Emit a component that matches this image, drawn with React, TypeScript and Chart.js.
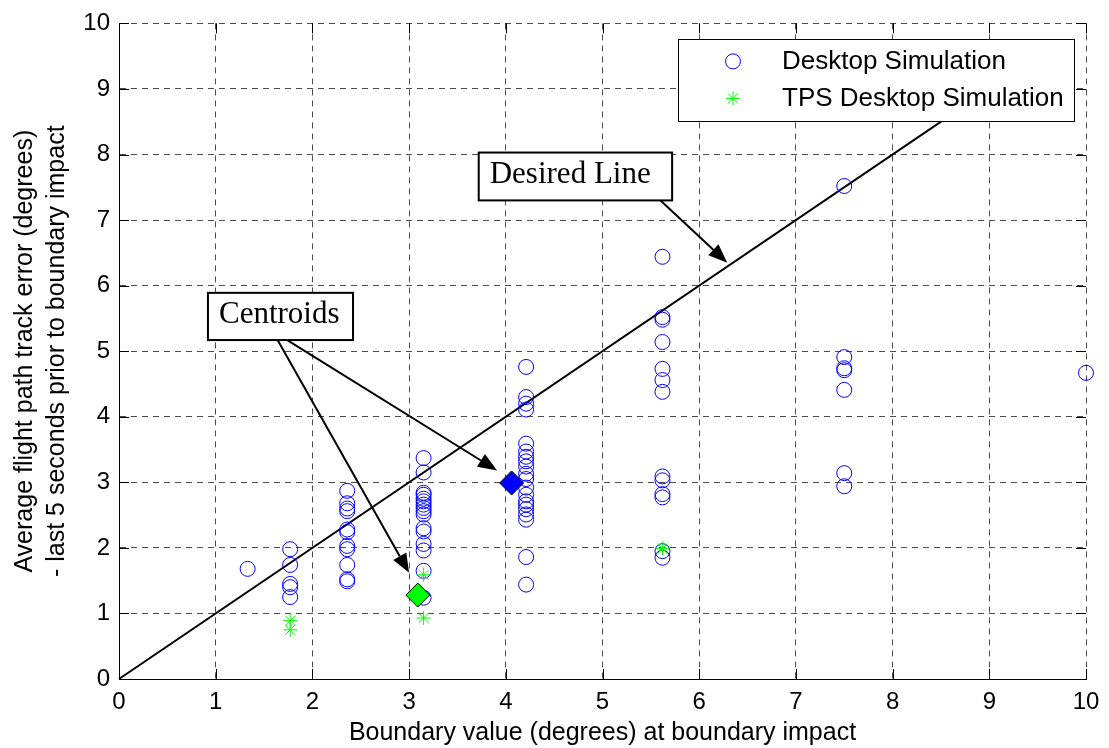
import React, { useEffect, useRef } from 'react';
import { Chart, registerables } from 'chart.js';

Chart.register(...registerables);

// ---- Data ----
const tickValues = [0, 1, 2, 3, 4, 5, 6, 7, 8, 9, 10];

const desktopClusterX = [1.33, 1.77, 2.36, 3.15, 4.21, 5.62, 7.5, 10];
const desktopClusterY = [
  [1.68],
  [1.98, 1.74, 1.45, 1.4, 1.25],
  [2.87, 2.68, 2.6, 2.56, 2.28, 2.24, 2.03, 1.98, 1.74, 1.52, 1.49],
  [3.37, 3.15, 2.84, 2.81, 2.75, 2.71, 2.66, 2.61, 2.56, 2.51, 2.3, 2.25, 2.06, 1.96, 1.65, 1.24],
  [4.76, 4.3, 4.2, 4.11, 3.59, 3.47, 3.39, 3.32, 3.24, 3.13, 3.05, 2.92, 2.81, 2.71, 2.66, 2.59, 2.51, 2.43, 1.86, 1.44],
  [6.44, 5.52, 5.48, 5.14, 4.73, 4.56, 4.38, 3.09, 3.03, 2.82, 2.77, 1.95, 1.85],
  [7.52, 4.91, 4.74, 4.71, 4.41, 3.14, 2.94],
  [4.67],
];

const tpsX = [1.77, 1.77, 3.15, 3.15, 5.62];
const tpsY = [0.89, 0.75, 1.59, 0.93, 1.99];

const desktopCentroidX = [4.06];
const desktopCentroidY = [2.99];
const tpsCentroidX = [3.09];
const tpsCentroidY = [1.28];

const desiredLineX = [0, 9.5];
const desiredLineY = [0, 9.5];

const seriesLabels = ['Desktop Simulation', 'TPS Desktop Simulation'];
const xTitle = 'Boundary value (degrees) at boundary impact';
const yTitle = ['Average flight path track error (degrees)', '- last 5 seconds prior to boundary impact'];

// annotations (in data units)
const noteTexts = ['Desired Line', 'Centroids'];
const noteX0 = [3.72, 0.92];
const noteX1 = [5.72, 2.42];
const noteY0 = [7.3, 5.17];
const noteY1 = [8.03, 5.89];
const arrowFromX = [5.6, 1.74, 1.64];
const arrowFromY = [7.3, 5.17, 5.17];
const arrowToX = [6.29, 3.91, 3.0];
const arrowToY = [6.35, 3.18, 1.62];

const SANS = "'Liberation Sans', Arial, sans-serif";
const SERIF = "'Liberation Serif', 'Times New Roman', serif";

function drawArrow(ctx: CanvasRenderingContext2D, x0: number, y0: number, x1: number, y1: number) {
  const ang = Math.atan2(y1 - y0, x1 - x0);
  const L = 19;
  const W = 7.5;
  const bx = x1 - L * Math.cos(ang);
  const by = y1 - L * Math.sin(ang);
  ctx.beginPath();
  ctx.moveTo(x0, y0);
  ctx.lineTo(bx, by);
  ctx.stroke();
  ctx.beginPath();
  ctx.moveTo(x1, y1);
  ctx.lineTo(bx - W * Math.sin(ang), by + W * Math.cos(ang));
  ctx.lineTo(bx + W * Math.sin(ang), by - W * Math.cos(ang));
  ctx.closePath();
  ctx.fill();
}

const overlayPlugin = {
  id: 'overlay',
  afterDatasetsDraw(chart: any) {
    const { ctx, chartArea: ca, scales } = chart;
    const xs = scales.x;
    const ys = scales.y;
    ctx.save();

    // inward tick marks on all four sides
    ctx.strokeStyle = '#000';
    ctx.lineWidth = 1;
    ctx.setLineDash([]);
    ctx.beginPath();
    for (const v of tickValues) {
      const px = Math.round(xs.getPixelForValue(v)) + 0.5;
      ctx.moveTo(px, ca.bottom);
      ctx.lineTo(px, ca.bottom - 10);
      ctx.moveTo(px, ca.top);
      ctx.lineTo(px, ca.top + 10);
      const py = Math.round(ys.getPixelForValue(v)) + 0.5;
      ctx.moveTo(ca.left, py);
      ctx.lineTo(ca.left + 10, py);
      ctx.moveTo(ca.right, py);
      ctx.lineTo(ca.right - 10, py);
    }
    ctx.stroke();

    // arrows
    ctx.strokeStyle = '#000';
    ctx.fillStyle = '#000';
    ctx.lineWidth = 2;
    for (let i = 0; i < arrowFromX.length; i++) {
      drawArrow(
        ctx,
        xs.getPixelForValue(arrowFromX[i]),
        ys.getPixelForValue(arrowFromY[i]),
        xs.getPixelForValue(arrowToX[i]),
        ys.getPixelForValue(arrowToY[i])
      );
    }

    // text boxes
    for (let i = 0; i < noteTexts.length; i++) {
      const l = xs.getPixelForValue(noteX0[i]);
      const r = xs.getPixelForValue(noteX1[i]);
      const t = ys.getPixelForValue(noteY1[i]);
      const b = ys.getPixelForValue(noteY0[i]);
      ctx.fillStyle = '#fff';
      ctx.fillRect(l, t, r - l, b - t);
      ctx.strokeStyle = '#000';
      ctx.lineWidth = 2;
      ctx.strokeRect(l, t, r - l, b - t);
      ctx.fillStyle = '#000';
      ctx.font = `31px ${SERIF}`;
      ctx.textAlign = 'left';
      ctx.textBaseline = 'alphabetic';
      ctx.fillText(noteTexts[i], l + 11, b - 17);
    }

    // legend
    const lw = 396;
    const lh = 82;
    const lx = ca.right - 12 - lw;
    const ly = ca.top + 16;
    ctx.fillStyle = '#fff';
    ctx.fillRect(lx, ly, lw, lh);
    ctx.strokeStyle = '#000';
    ctx.lineWidth = 1;
    ctx.strokeRect(Math.round(lx) + 0.5, Math.round(ly) + 0.5, lw, lh);
    const mx = lx + 55;
    const r1 = ly + 22;
    const r2 = ly + 59;
    ctx.strokeStyle = '#0000ff';
    ctx.beginPath();
    ctx.arc(mx, r1, 7.5, 0, Math.PI * 2);
    ctx.stroke();
    ctx.strokeStyle = '#00ff00';
    ctx.beginPath();
    for (let k = 0; k < 4; k++) {
      const a = (k * Math.PI) / 4;
      ctx.moveTo(mx - 7 * Math.cos(a), r2 - 7 * Math.sin(a));
      ctx.lineTo(mx + 7 * Math.cos(a), r2 + 7 * Math.sin(a));
    }
    ctx.stroke();
    ctx.fillStyle = '#000';
    ctx.font = `26px ${SANS}`;
    ctx.textAlign = 'left';
    ctx.textBaseline = 'middle';
    ctx.fillText(seriesLabels[0], lx + 104, r1);
    ctx.fillText(seriesLabels[1], lx + 104, r2);

    ctx.restore();
  },
};

export default function App() {
  const ref = useRef<HTMLCanvasElement>(null);

  useEffect(() => {
    document.body.style.margin = '0';
    const desktopPoints = desktopClusterX.flatMap((x, i) => desktopClusterY[i].map((y) => ({ x, y })));
    const tpsPoints = tpsX.map((x, i) => ({ x, y: tpsY[i] }));
    const linePoints = desiredLineX.map((x, i) => ({ x, y: desiredLineY[i] }));

    const axisCommon = (title: any, isX: boolean) => ({
      type: 'linear' as const,
      min: 0,
      max: 10,
      afterFit: (s: any) => {
        if (isX) s.height = 69;
        else s.width = 119;
      },
      ticks: {
        stepSize: 1,
        color: '#000',
        font: { family: SANS, size: 24 },
        padding: 9,
      },
      grid: {
        color: 'rgba(0,0,0,0.7)',
        lineWidth: 1,
        drawTicks: false,
      },
      border: { display: true, color: '#000', width: 1, dash: [6, 5] },
      title,
    });

    const chart = new Chart(ref.current!, {
      type: 'scatter',
      data: {
        datasets: [
          {
            label: 'Desired Line',
            data: linePoints,
            showLine: true,
            borderColor: '#000',
            borderWidth: 2,
            pointRadius: 0,
            order: 4,
            clip: false,
          } as any,
          {
            label: seriesLabels[0],
            data: desktopPoints,
            pointStyle: 'circle',
            pointRadius: 7.5,
            borderColor: '#0000ff',
            backgroundColor: 'rgba(0,0,0,0)',
            borderWidth: 1,
            order: 3,
            clip: false,
          },
          {
            label: seriesLabels[1],
            data: tpsPoints,
            pointStyle: 'star',
            pointRadius: 7,
            borderColor: '#00ff00',
            backgroundColor: '#00ff00',
            borderWidth: 1,
            order: 2,
            clip: false,
          },
          {
            label: 'Desktop centroid',
            data: desktopCentroidX.map((x, i) => ({ x, y: desktopCentroidY[i] })),
            pointStyle: 'rectRot',
            pointRadius: 12,
            borderColor: '#000',
            backgroundColor: '#0000ff',
            borderWidth: 1,
            order: 1,
            clip: false,
          },
          {
            label: 'TPS centroid',
            data: tpsCentroidX.map((x, i) => ({ x, y: tpsCentroidY[i] })),
            pointStyle: 'rectRot',
            pointRadius: 12,
            borderColor: '#000',
            backgroundColor: '#00ff00',
            borderWidth: 1,
            order: 1,
            clip: false,
          },
        ],
      },
      options: {
        responsive: false,
        animation: false,
        devicePixelRatio: 1,
        layout: { padding: { top: 19, right: 23, bottom: 0, left: 0 } },
        plugins: {
          legend: { display: false },
          tooltip: { enabled: false },
        },
        scales: {
          x: axisCommon(
            {
              display: true,
              text: xTitle,
              color: '#000',
              font: { family: SANS, size: 25 },
              padding: { top: 0, bottom: 0 },
            },
            true
          ),
          y: axisCommon(
            {
              display: true,
              text: yTitle,
              color: '#000',
              font: { family: SANS, size: 25, lineHeight: 1.28 },
              padding: { top: 9, bottom: 0 },
            },
            false
          ),
        },
      },
      plugins: [overlayPlugin],
    });
    return () => chart.destroy();
  }, []);

  return (
    <div style={{ width: 1109, height: 748 }}>
      <canvas ref={ref} width={1109} height={748} style={{ display: 'block' }} />
    </div>
  );
}
